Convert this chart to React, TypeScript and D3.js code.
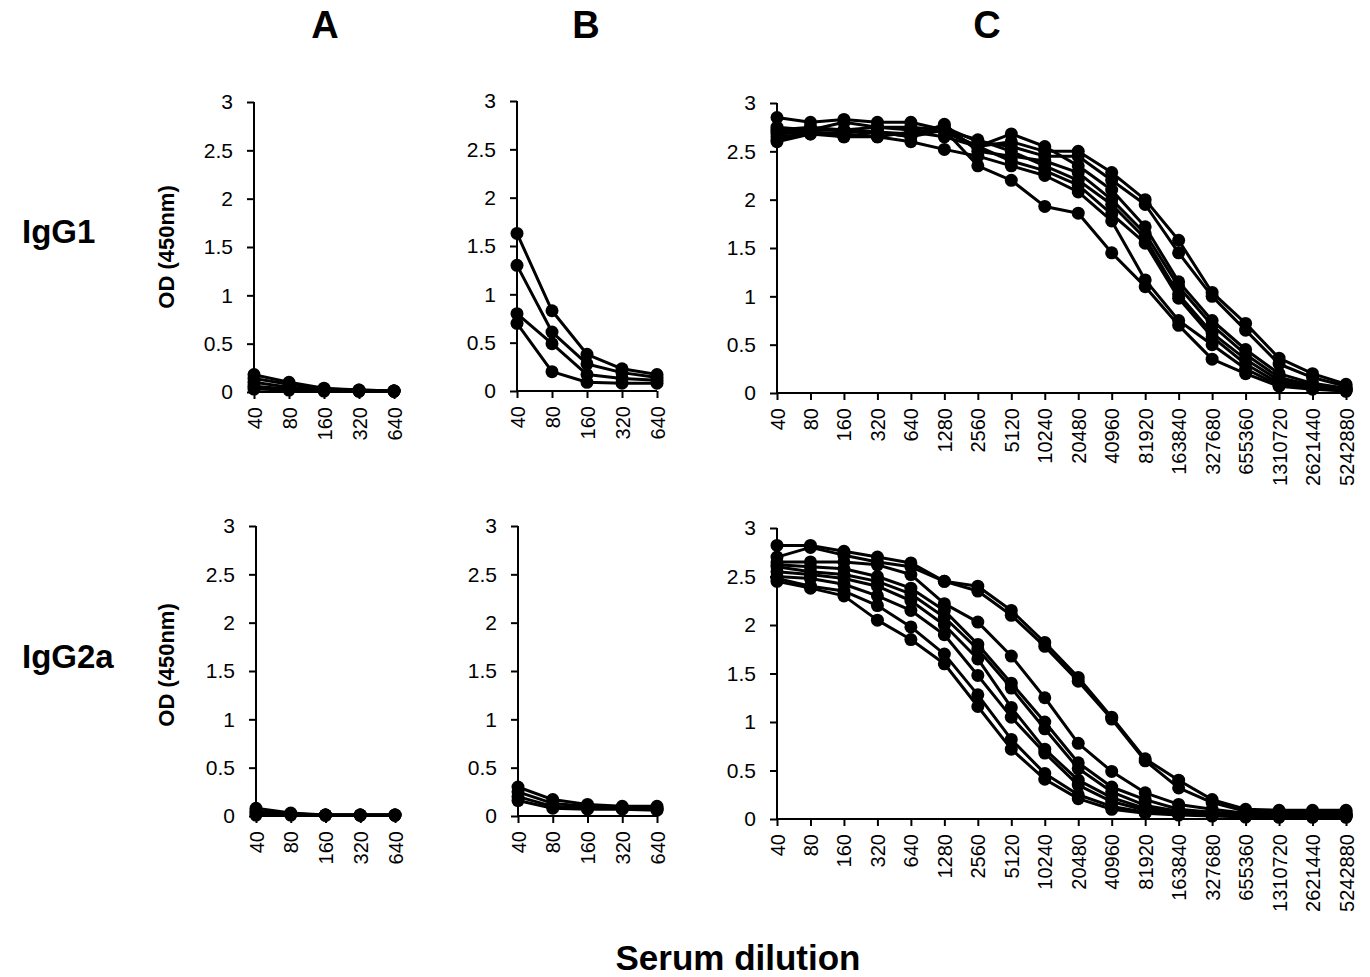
import React, { useEffect, useRef } from "react";
import * as d3 from "d3";

// dilution labels
const shortDilutions = ["40", "80", "160", "320", "640"];
const longDilutions = [
  "40", "80", "160", "320", "640", "1280", "2560", "5120", "10240", "20480",
  "40960", "81920", "163840", "327680", "655360", "1310720", "2621440", "5242880",
];
const yTicks = [0, 0.5, 1, 1.5, 2, 2.5, 3];

// IgG1, group A
const igg1A = [
  [0.18, 0.1, 0.04, 0.02, 0.01],
  [0.14, 0.08, 0.03, 0.02, 0.01],
  [0.1, 0.05, 0.02, 0.01, 0.01],
  [0.06, 0.03, 0.02, 0.01, 0.01],
  [0.03, 0.02, 0.01, 0.01, 0.01],
];

// IgG1, group B
const igg1B = [
  [1.63, 0.83, 0.38, 0.23, 0.17],
  [1.3, 0.61, 0.28, 0.19, 0.14],
  [0.8, 0.49, 0.17, 0.13, 0.11],
  [0.7, 0.2, 0.09, 0.08, 0.08],
];

// IgG1, group C
const igg1C = [
  [2.7, 2.72, 2.72, 2.75, 2.72, 2.7, 2.55, 2.6, 2.5, 2.5, 2.28, 2.0, 1.58, 1.04, 0.72, 0.36, 0.2, 0.09],
  [2.65, 2.68, 2.7, 2.7, 2.68, 2.75, 2.6, 2.55, 2.45, 2.45, 2.2, 1.95, 1.45, 1.0, 0.65, 0.3, 0.16, 0.07],
  [2.85, 2.8, 2.83, 2.8, 2.8, 2.72, 2.55, 2.68, 2.55, 2.35, 2.1, 1.72, 1.15, 0.75, 0.45, 0.2, 0.1, 0.05],
  [2.62, 2.7, 2.65, 2.7, 2.65, 2.78, 2.5, 2.45, 2.4, 2.28, 2.0, 1.65, 1.1, 0.7, 0.4, 0.16, 0.08, 0.04],
  [2.75, 2.72, 2.8, 2.75, 2.75, 2.72, 2.62, 2.5, 2.35, 2.2, 1.95, 1.6, 1.02, 0.62, 0.35, 0.13, 0.07, 0.03],
  [2.68, 2.7, 2.68, 2.65, 2.7, 2.65, 2.55, 2.4, 2.3, 2.15, 1.85, 1.55, 0.98, 0.58, 0.3, 0.1, 0.06, 0.03],
  [2.6, 2.68, 2.65, 2.65, 2.6, 2.52, 2.45, 2.35, 2.25, 2.08, 1.78, 1.17, 0.75, 0.5, 0.25, 0.08, 0.05, 0.02],
  [2.72, 2.75, 2.72, 2.7, 2.65, 2.72, 2.35, 2.2, 1.93, 1.86, 1.45, 1.1, 0.7, 0.35, 0.2, 0.07, 0.04, 0.02],
];

// IgG2a, group A
const igg2aA = [
  [0.08, 0.03, 0.01, 0.01, 0.01],
  [0.05, 0.02, 0.01, 0.01, 0.01],
  [0.03, 0.02, 0.01, 0.01, 0.01],
  [0.01, 0.01, 0.01, 0.01, 0.01],
];

// IgG2a, group B
const igg2aB = [
  [0.3, 0.17, 0.12, 0.1, 0.1],
  [0.25, 0.13, 0.1, 0.08, 0.08],
  [0.2, 0.1, 0.08, 0.08, 0.07],
  [0.16, 0.08, 0.07, 0.07, 0.06],
];

// IgG2a, group C
const igg2aC = [
  [2.82, 2.82, 2.76, 2.7, 2.64, 2.45, 2.4, 2.15, 1.82, 1.46, 1.05, 0.62, 0.4, 0.2, 0.1, 0.09, 0.09, 0.09],
  [2.7, 2.8, 2.72, 2.65, 2.6, 2.45, 2.35, 2.1, 1.78, 1.42, 1.03, 0.6, 0.32, 0.17, 0.08, 0.07, 0.07, 0.07],
  [2.65, 2.65, 2.65, 2.62, 2.52, 2.22, 2.03, 1.68, 1.25, 0.78, 0.49, 0.27, 0.15, 0.1, 0.06, 0.05, 0.05, 0.05],
  [2.62, 2.6, 2.58, 2.5, 2.38, 2.15, 1.8, 1.4, 1.0, 0.58, 0.33, 0.2, 0.1, 0.07, 0.05, 0.04, 0.04, 0.04],
  [2.6, 2.55, 2.52, 2.45, 2.32, 2.08, 1.75, 1.35, 0.93, 0.52, 0.28, 0.14, 0.08, 0.06, 0.04, 0.04, 0.04, 0.04],
  [2.55, 2.52, 2.48, 2.4, 2.25, 2.0, 1.65, 1.15, 0.72, 0.4, 0.22, 0.11, 0.07, 0.05, 0.04, 0.03, 0.03, 0.03],
  [2.5, 2.48, 2.42, 2.3, 2.15, 1.9, 1.48, 1.05, 0.68, 0.35, 0.18, 0.09, 0.06, 0.04, 0.03, 0.03, 0.03, 0.03],
  [2.48, 2.4, 2.35, 2.2, 1.98, 1.7, 1.28, 0.82, 0.47, 0.25, 0.13, 0.07, 0.05, 0.04, 0.03, 0.02, 0.02, 0.02],
  [2.45, 2.38, 2.3, 2.05, 1.85, 1.6, 1.16, 0.72, 0.41, 0.21, 0.1, 0.06, 0.04, 0.03, 0.02, 0.02, 0.02, 0.02],
];

const W = 1370;
const H = 977;
const FONT = "'Liberation Sans', Arial, Helvetica, sans-serif";

type Panel = {
  labels: string[];
  series: number[][];
  x0: number;
  x1: number;
  yBottom: number;
  yTop: number;
};

const panels: Panel[] = [
  { labels: shortDilutions, series: igg1A, x0: 254, x1: 394, yBottom: 392, yTop: 102 },
  { labels: shortDilutions, series: igg1B, x0: 517, x1: 657, yBottom: 391, yTop: 101 },
  { labels: longDilutions, series: igg1C, x0: 777, x1: 1346, yBottom: 393, yTop: 103 },
  { labels: shortDilutions, series: igg2aA, x0: 256, x1: 395, yBottom: 816, yTop: 526 },
  { labels: shortDilutions, series: igg2aB, x0: 518, x1: 657, yBottom: 816, yTop: 526 },
  { labels: longDilutions, series: igg2aC, x0: 777, x1: 1346, yBottom: 819, yTop: 528 },
];

export default function App() {
  const svgRef = useRef<SVGSVGElement | null>(null);

  useEffect(() => {
    const svg = d3.select(svgRef.current);
    svg.selectAll("*").remove();
    svg.attr("font-family", FONT);

    panels.forEach((p) => {
      const x = d3.scalePoint<string>().domain(p.labels).range([p.x0, p.x1]);
      const y = d3.scaleLinear().domain([0, 3]).range([p.yBottom, p.yTop]);
      const g = svg.append("g");

      // y axis
      const yAxis = g
        .append("g")
        .attr("transform", `translate(${p.x0},0)`)
        .call(
          d3
            .axisLeft(y)
            .tickValues(yTicks)
            .tickSize(7)
            .tickPadding(14)
            .tickFormat((d) => String(d))
        );
      yAxis.select(".domain").attr("stroke", "#000").attr("stroke-width", 2).attr("d", `M0,${p.yBottom}V${p.yTop}`);
      yAxis.selectAll(".tick line").attr("stroke", "#000").attr("stroke-width", 2);
      yAxis
        .selectAll(".tick text")
        .attr("font-size", 21)
        .attr("fill", "#000")
        .attr("font-family", FONT);

      // x axis
      const xAxis = g
        .append("g")
        .attr("transform", `translate(0,${p.yBottom})`)
        .call(d3.axisBottom(x).tickSize(7).tickSizeOuter(0));
      xAxis.select(".domain").attr("stroke", "#000").attr("stroke-width", 2).attr("d", `M${p.x0},0H${p.x1}`);
      xAxis.selectAll(".tick line").attr("stroke", "#000").attr("stroke-width", 2);
      xAxis
        .selectAll(".tick text")
        .attr("font-size", 20)
        .attr("fill", "#000")
        .attr("font-family", FONT)
        .attr("transform", "rotate(-90)")
        .attr("x", -15)
        .attr("y", 0)
        .attr("dy", "0.35em")
        .attr("text-anchor", "end");

      const line = d3
        .line<number>()
        .x((_, i) => x(p.labels[i]) as number)
        .y((d) => y(d));

      p.series.forEach((s) => {
        g.append("path")
          .datum(s)
          .attr("fill", "none")
          .attr("stroke", "#000")
          .attr("stroke-width", 3)
          .attr("stroke-linejoin", "round")
          .attr("d", line);
        g.selectAll(null)
          .data(s)
          .enter()
          .append("circle")
          .attr("cx", (_, i) => x(p.labels[i]) as number)
          .attr("cy", (d) => y(d))
          .attr("r", 6.5)
          .attr("fill", "#000");
      });
    });

    // column titles
    const cols = [
      { t: "A", x: 325 },
      { t: "B", x: 586 },
      { t: "C", x: 987 },
    ];
    cols.forEach((c) => {
      svg
        .append("text")
        .attr("x", c.x)
        .attr("y", 38)
        .attr("text-anchor", "middle")
        .attr("font-size", 38)
        .attr("font-weight", "bold")
        .text(c.t);
    });

    // row titles
    [
      { t: "IgG1", y: 243 },
      { t: "IgG2a", y: 668 },
    ].forEach((r) => {
      svg
        .append("text")
        .attr("x", 22)
        .attr("y", r.y)
        .attr("font-size", 33)
        .attr("font-weight", "bold")
        .text(r.t);
    });

    // y axis titles
    [247, 665].forEach((cy) => {
      svg
        .append("text")
        .attr("transform", `translate(166,${cy}) rotate(-90)`)
        .attr("text-anchor", "middle")
        .attr("dy", "0.35em")
        .attr("font-size", 22)
        .attr("font-weight", "bold")
        .text("OD (450nm)");
    });

    svg
      .append("text")
      .attr("x", 738)
      .attr("y", 970)
      .attr("text-anchor", "middle")
      .attr("font-size", 35)
      .attr("font-weight", "bold")
      .text("Serum dilution");
  }, []);

  return (
    <svg
      ref={svgRef}
      width={W}
      height={H}
      style={{ position: "absolute", left: 0, top: 0, background: "#fff", display: "block" }}
    />
  );
}
